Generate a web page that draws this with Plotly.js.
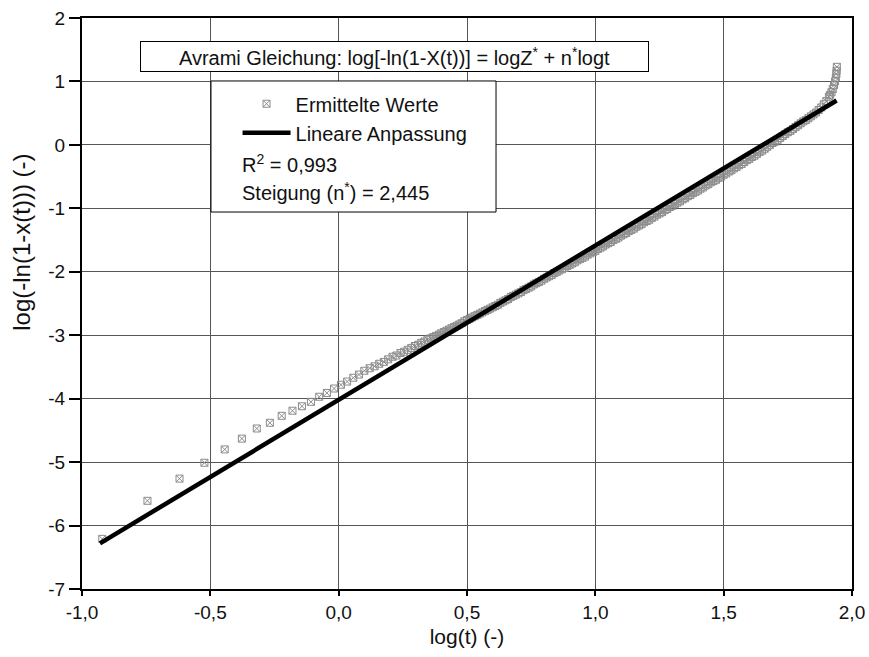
<!DOCTYPE html>
<html>
<head>
<meta charset="utf-8">
<script src="https://cdn.plot.ly/plotly-3.0.1.min.js"></script>
<style>html,body{margin:0;padding:0;background:#fff}#chart{width:869px;height:657px}</style>
</head>
<body>
<div id="chart"></div>
<script>
// Measured values: log(t) and log(-ln(1-X(t)))
const logT = [
 -0.921,-0.745,-0.620,-0.523,-0.444,-0.377,-0.319,-0.268,-0.222,-0.180,
 -0.143,-0.108,-0.076,-0.046,-0.018,0.009,0.033,0.057,0.079,0.100,
 0.121,0.140,0.158,0.176,0.193,0.210,0.225,0.241,0.255,0.269,
 0.283,0.297,0.310,0.322,0.334,0.346,0.358,0.369,0.380,0.391,
 0.40,0.41,0.42,0.43,0.44,0.45,0.46,0.47,0.48,0.49,
 0.50,0.51,0.52,0.53,0.54,0.55,0.56,0.57,0.58,0.59,
 0.60,0.61,0.62,0.63,0.64,0.65,0.66,0.67,0.68,0.69,
 0.70,0.71,0.72,0.73,0.74,0.75,0.76,0.77,0.78,0.79,
 0.80,0.81,0.82,0.83,0.84,0.85,0.86,0.87,0.88,0.89,
 0.90,0.91,0.92,0.93,0.94,0.95,0.96,0.97,0.98,0.99,
 1.00,1.01,1.02,1.03,1.04,1.05,1.06,1.07,1.08,1.09,
 1.10,1.11,1.12,1.13,1.14,1.15,1.16,1.17,1.18,1.19,
 1.20,1.21,1.22,1.23,1.24,1.25,1.26,1.27,1.28,1.29,
 1.30,1.31,1.32,1.33,1.34,1.35,1.36,1.37,1.38,1.39,
 1.40,1.41,1.42,1.43,1.44,1.45,1.46,1.47,1.48,1.49,
 1.50,1.51,1.52,1.53,1.54,1.55,1.56,1.57,1.58,1.59,
 1.60,1.61,1.62,1.63,1.64,1.65,1.66,1.67,1.68,1.69,
 1.70,1.71,1.72,1.73,1.74,1.75,1.76,1.77,1.78,1.79,
 1.80,1.81,1.82,1.83,1.84,1.85,1.86,1.87,1.88,1.89,
 1.90,1.91,1.915,1.92,1.925,1.93,1.934,1.937,1.939,1.940,1.941
];
const logLn = [
 -6.21,-5.61,-5.26,-5.01,-4.80,-4.63,-4.47,-4.38,-4.27,-4.19,
 -4.12,-4.05,-3.97,-3.91,-3.84,-3.78,-3.73,-3.67,-3.62,-3.56,
 -3.52,-3.49,-3.45,-3.42,-3.38,-3.34,-3.32,-3.28,-3.26,-3.23,
 -3.20,-3.17,-3.15,-3.12,-3.10,-3.07,-3.05,-3.03,-3.01,-2.99,
 -2.97,-2.95,-2.93,-2.91,-2.89,-2.87,-2.85,-2.83,-2.81,-2.78,
 -2.76,-2.74,-2.72,-2.70,-2.68,-2.66,-2.64,-2.62,-2.60,-2.58,
 -2.56,-2.54,-2.52,-2.49,-2.47,-2.45,-2.43,-2.40,-2.38,-2.36,
 -2.34,-2.32,-2.29,-2.27,-2.25,-2.23,-2.20,-2.18,-2.16,-2.14,
 -2.11,-2.09,-2.07,-2.05,-2.02,-2.00,-1.98,-1.96,-1.94,-1.91,
 -1.89,-1.87,-1.85,-1.82,-1.80,-1.78,-1.76,-1.73,-1.71,-1.69,
 -1.67,-1.64,-1.62,-1.60,-1.57,-1.55,-1.53,-1.50,-1.48,-1.46,
 -1.43,-1.41,-1.39,-1.36,-1.34,-1.32,-1.29,-1.27,-1.25,-1.22,
 -1.20,-1.18,-1.15,-1.13,-1.10,-1.08,-1.06,-1.03,-1.01,-0.98,
 -0.96,-0.93,-0.91,-0.89,-0.86,-0.84,-0.81,-0.79,-0.76,-0.74,
 -0.72,-0.69,-0.67,-0.64,-0.62,-0.59,-0.57,-0.55,-0.52,-0.50,
 -0.47,-0.45,-0.42,-0.40,-0.37,-0.35,-0.32,-0.30,-0.27,-0.24,
 -0.22,-0.19,-0.17,-0.14,-0.11,-0.09,-0.06,-0.03,0.00,0.03,
 0.05,0.08,0.11,0.14,0.17,0.20,0.22,0.25,0.28,0.31,
 0.34,0.37,0.39,0.42,0.45,0.48,0.51,0.55,0.59,0.64,
 0.69,0.76,0.79,0.83,0.88,0.94,1.00,1.06,1.12,1.17,1.23
];
// Linear fit (slope n* = 2,445)
const fitX = [-0.93, 1.94];
const fitY = [-6.28, 0.70];

const xTicks = [-1.0, -0.5, 0.0, 0.5, 1.0, 1.5, 2.0];
const xTickLabels = ['-1,0', '-0,5', '0,0', '0,5', '1,0', '1,5', '2,0'];
const yTicks = [-7, -6, -5, -4, -3, -2, -1, 0, 1, 2];
const yTickLabels = ['-7', '-6', '-5', '-4', '-3', '-2', '-1', '0', '1', '2'];

const FONT = 'Liberation Sans, Arial, sans-serif';

const traces = [
  {
    x: logT, y: logLn, type: 'scatter', mode: 'markers', name: 'Ermittelte Werte',
    marker: {symbol: 'square-x-open', size: 7, color: '#8c8c8c', line: {width: 1, color: '#8c8c8c'}},
    cliponaxis: false
  },
  {
    x: fitX, y: fitY, type: 'scatter', mode: 'lines', name: 'Lineare Anpassung',
    line: {color: '#000', width: 4.5}
  }
];

const layout = {
  width: 869, height: 657,
  margin: {l: 82, r: 17, t: 18, b: 68},
  paper_bgcolor: '#fff', plot_bgcolor: '#fff',
  separators: ',.',
  font: {family: FONT, size: 20, color: '#111'},
  xaxis: {
    range: [-1.0, 2.0], tickvals: xTicks, ticktext: xTickLabels,
    showgrid: true, gridcolor: '#555', gridwidth: 1,
    showline: true, linecolor: '#000', linewidth: 2, mirror: true,
    ticks: 'outside', ticklen: 5, tickwidth: 2, tickcolor: '#000',
    tickfont: {family: FONT, size: 19, color: '#111'},
    zeroline: false,
    title: {text: 'log(t) (-)', font: {family: FONT, size: 21, color: '#111'}, standoff: 8}
  },
  yaxis: {
    range: [-7, 2], tickvals: yTicks, ticktext: yTickLabels,
    showgrid: true, gridcolor: '#555', gridwidth: 1,
    showline: true, linecolor: '#000', linewidth: 2, mirror: true,
    ticks: 'outside', ticklen: 11, tickwidth: 2, tickcolor: '#000',
    tickfont: {family: FONT, size: 19, color: '#111'},
    zeroline: false
  },
  showlegend: true,
  legend: {
    x: 0.202, y: 0.884, xanchor: 'left', yanchor: 'top',
    bgcolor: 'rgba(0,0,0,0)', borderwidth: 0,
    font: {family: FONT, size: 20, color: '#111'},
    itemwidth: 48, tracegroupgap: 0
  },
  shapes: [
    {type: 'rect', xref: 'paper', yref: 'paper', x0: 0.1675, x1: 0.5377, y0: 0.6602, y1: 0.8897,
     fillcolor: '#fff', line: {color: '#000', width: 1}, layer: 'above'}
  ],
  annotations: [
    {xref: 'paper', yref: 'paper', x: 0.4058, y: 0.9326, xanchor: 'center', yanchor: 'middle',
     text: 'Avrami Gleichung: log[-ln(1-X(t))] = logZ<sup>*</sup> + n<sup>*</sup>logt',
     showarrow: false, bgcolor: '#fff', bordercolor: '#000', borderwidth: 1,
     width: 505, height: 27, font: {family: FONT, size: 20, color: '#111'}},
    {xref: 'paper', yref: 'paper', x: 0.2052, y: 0.746, xanchor: 'left', yanchor: 'middle',
     text: 'R<sup>2</sup> = 0,993', showarrow: false, font: {family: FONT, size: 20, color: '#111'}},
    {xref: 'paper', yref: 'paper', x: 0.2052, y: 0.697, xanchor: 'left', yanchor: 'middle',
     text: 'Steigung (n<sup>*</sup>) = 2,445', showarrow: false, font: {family: FONT, size: 20, color: '#111'}},
    {xref: 'paper', yref: 'paper', x: -0.078, y: 0.608, xanchor: 'center', yanchor: 'middle',
     text: 'log(-ln(1-x(t))) (-)', textangle: -90, showarrow: false,
     font: {family: FONT, size: 24, color: '#111'}}
  ]
};

Plotly.newPlot('chart', traces, layout, {displayModeBar: false, staticPlot: true});
</script>
</body>
</html>
